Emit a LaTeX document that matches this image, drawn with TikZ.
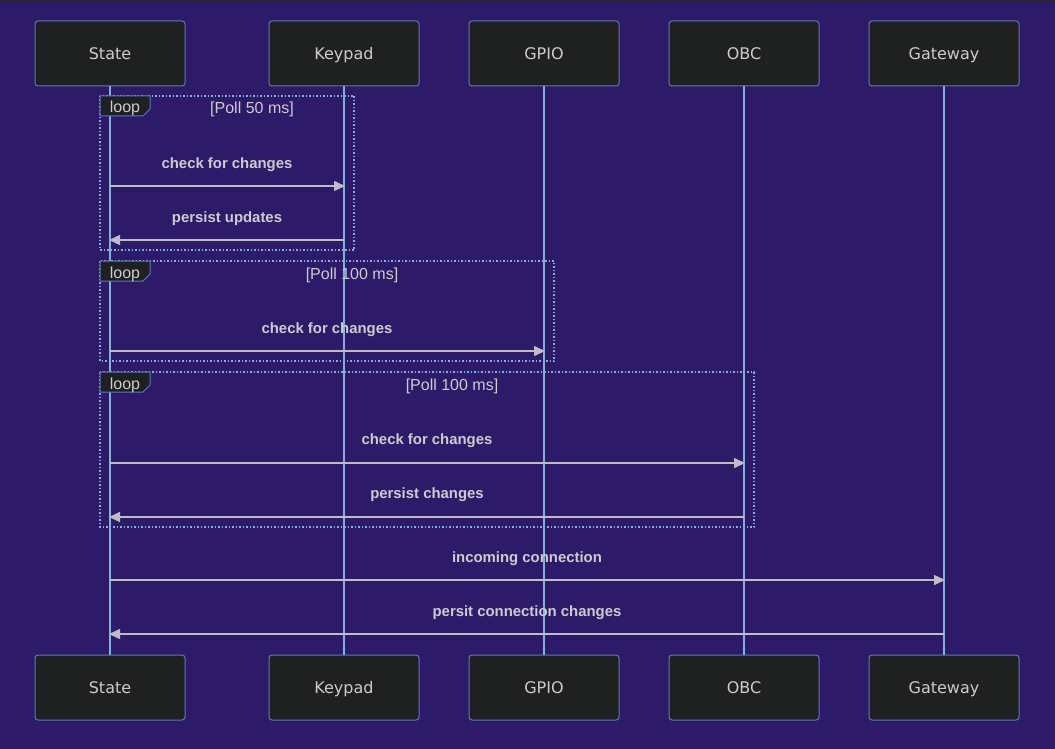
\documentclass[tikz,border=0pt]{standalone}
\usepackage{fontspec}
\setmainfont{Liberation Sans}
\newfontfamily\actorfont{DejaVu Sans}
\usetikzlibrary{arrows.meta}
\definecolor{bgc}{HTML}{2D1B69}
\definecolor{boxfill}{HTML}{1F2020}
\definecolor{boxline}{HTML}{5A7AB8}
\definecolor{lifec}{HTML}{81B1DB}
\definecolor{msgc}{HTML}{BDBDC4}
\definecolor{txtc}{HTML}{CCCCCC}
\tikzset{
  actor/.style={draw=boxline, line width=1pt, fill=boxfill, rounded corners=3pt, minimum width=150pt, minimum height=65pt, inner sep=0pt, text=txtc, font=\actorfont\fontsize{16}{19}\selectfont, text height=15.7pt, text depth=3.8pt},
  life/.style={draw=lifec, line width=1.5pt},
  msg/.style={draw=msgc, line width=1.5pt, -{Triangle[length=11pt,width=10pt]}},
  msglabel/.style={text=txtc, font=\bfseries\fontsize{14.9}{17}\selectfont, inner sep=0pt, anchor=base},
  loopframe/.style={draw=lifec, line width=1.5pt, dash pattern=on 1.5pt off 2pt},
  looptab/.style={draw=boxline, line width=1pt, fill=boxfill},
  looptext/.style={text=txtc, font=\fontsize{16}{19}\selectfont, inner sep=0pt, anchor=base},
}
\begin{document}
\begin{tikzpicture}[x=1pt,y=-1pt]
\fill[bgc] (0,0) rectangle (1055,749);
\useasboundingbox (0,0) rectangle (1055,749);
\fill[black!85] (0,0) rectangle (1055,1.5);
% actors
\foreach \n/\t/\x in {s/State/110, k/Keypad/344, g/GPIO/544, o/OBC/744, w/Gateway/944}{
  \node[actor] (\n top) at (\x,53.5) {\t};
  \node[actor] (\n bot) at (\x,687.5) {\t};
  \draw[life] (\n top.south) -- (\n bot.north);
}
% loop 1
\draw[loopframe] (100,96) rectangle (354,250);
\draw[looptab] (100,96) -- (150,96) -- (150,109) -- (143,116) -- (100,116) -- cycle;
\node[looptext] (l1) at (125,113) {loop};
\node[looptext] (c1) at (252,114) {[Poll 50 ms]};
% loop 2
\draw[loopframe] (100,261) rectangle (554,361);
\draw[looptab] (100,261) -- (150,261) -- (150,274) -- (143,281) -- (100,281) -- cycle;
\node[looptext] (l2) at (125,278) {loop};
\node[looptext] (c2) at (352,279) {[Poll 100 ms]};
% loop 3
\draw[loopframe] (100,372) rectangle (754,527);
\draw[looptab] (100,372) -- (150,372) -- (150,385) -- (143,392) -- (100,392) -- cycle;
\node[looptext] (l3) at (125,389) {loop};
\node[looptext] (c3) at (452,390) {[Poll 100 ms]};
% messages
\coordinate (a1s) at (110,186); \coordinate (a1e) at (345,186);
\node[msglabel] (m1) at (227,168) {check for changes};
\draw[msg] (a1s) -- (a1e);
\coordinate (a2s) at (344,240); \coordinate (a2e) at (109,240);
\node[msglabel] (m2) at (227,222) {persist updates};
\draw[msg] (a2s) -- (a2e);
\coordinate (a3s) at (110,351); \coordinate (a3e) at (545,351);
\node[msglabel] (m3) at (327,333) {check for changes};
\draw[msg] (a3s) -- (a3e);
\coordinate (a4s) at (110,463); \coordinate (a4e) at (745,463);
\node[msglabel] (m4) at (427,444) {check for changes};
\draw[msg] (a4s) -- (a4e);
\coordinate (a5s) at (744,517); \coordinate (a5e) at (109,517);
\node[msglabel] (m5) at (427,498) {persist changes};
\draw[msg] (a5s) -- (a5e);
\coordinate (a6s) at (110,580); \coordinate (a6e) at (945,580);
\node[msglabel] (m6) at (527,562) {incoming connection};
\draw[msg] (a6s) -- (a6e);
\coordinate (a7s) at (944,634); \coordinate (a7e) at (109,634);
\node[msglabel] (m7) at (527,616) {persit connection changes};
\draw[msg] (a7s) -- (a7e);
\end{tikzpicture}
\end{document}
